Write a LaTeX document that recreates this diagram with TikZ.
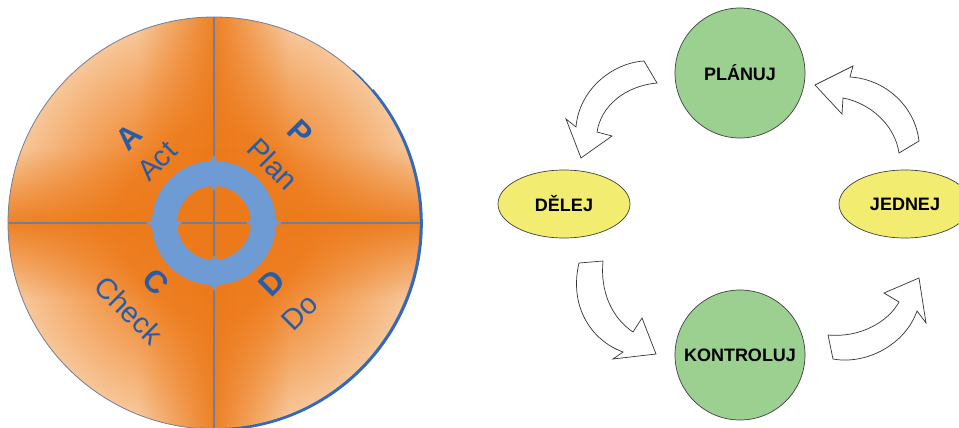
\documentclass[tikz,border=0pt]{standalone}
\usepackage{fontspec}
\setmainfont{Liberation Sans}
\usetikzlibrary{shapes.geometric,fadings}
\definecolor{orA}{RGB}{239,130,38}
\definecolor{orD}{RGB}{236,122,26}
\definecolor{peach}{RGB}{247,198,152}
\definecolor{ringB}{RGB}{110,155,212}
\definecolor{txtB}{RGB}{40,92,168}
\definecolor{axisC}{RGB}{115,125,150}
\definecolor{rimB}{RGB}{50,105,185}
\definecolor{grn}{RGB}{155,208,145}
\definecolor{yel}{RGB}{242,236,112}
\pgfdeclareradialshading{rimshade}{\pgfpoint{0bp}{0bp}}{color(0bp)=(orA); color(11bp)=(orA); color(25bp)=(peach); color(50bp)=(peach)}
\tikzfading[name=vband, left color=transparent!100, right color=transparent!100, middle color=transparent!10]
\tikzfading[name=hband, top color=transparent!100, bottom color=transparent!100, middle color=transparent!10]
\tikzset{
  lbl/.style={text=txtB, inner sep=0pt, font=\fontsize{29}{29}\selectfont},
  bigl/.style={text=txtB, inner sep=0pt, font=\bfseries\fontsize{31}{31}\selectfont},
  greenc/.style={circle, draw=black!75, fill=grn, line width=0.7pt, minimum size=130pt, inner sep=0pt, font=\bfseries\fontsize{18}{18}\selectfont},
  yellowe/.style={ellipse, draw=black!75, fill=yel, line width=0.7pt, minimum width=132pt, minimum height=68pt, inner sep=0pt, font=\bfseries\fontsize{18}{18}\selectfont},
  blockarrow/.style={draw=black!80, fill=white, line width=0.7pt, line join=miter},
  barb/.style={fill=ringB}
}
\begin{document}
\begin{tikzpicture}[x=1pt,y=-1pt]
\useasboundingbox (0,0) rectangle (959,428);
% ---- left disc ----
\begin{scope}
  \clip (214,223) circle (206);
  \shade[shading=rimshade] (214,223) circle (206);
  \fill[orD, path fading=vband] (139,0) rectangle (289,440);
  \fill[orD, path fading=hband] (0,148) rectangle (430,298);
\end{scope}
\draw[axisC, line width=1.1pt] (8,223) -- (420,223);
\draw[axisC, line width=1.1pt] (214,17) -- (214,430);
\draw[axisC, line width=0.8pt] (214,223) circle (206);
\begin{scope}
  \clip (214,223) -- (490,-80) -- (600,-80) -- (600,600) -- (188,600) -- cycle;
  \draw[rimB, line width=1.4pt] (214.8,223.3) circle (206);
\end{scope}
\begin{scope}
  \clip (214,223) -- (444,30) -- (600,30) -- (600,600) -- (188,600) -- cycle;
  \draw[rimB, line width=2.6pt] (215.5,223.5) circle (206);
\end{scope}
% ring
\fill[ringB, even odd rule] (214,223) circle (62) (214,223) circle (37);
\foreach \a in {0,90,180,270}{
  \fill[barb] ([shift={(214,223)}]\a-4:61) -- ([shift={(214,223)}]\a:68) -- ([shift={(214,223)}]\a+3:61) -- cycle;
  \fill[barb] ([shift={(214,223)}]\a-6:38) -- ([shift={(214,223)}]\a:32) -- ([shift={(214,223)}]\a+4:38) -- cycle;
}
% labels
\node[bigl, rotate=45] (A) at (129,137) {A};
\node[lbl, rotate=45] (act) at (157,161) {Act};
\node[bigl, rotate=-45] (P) at (300,132) {P};
\node[lbl, rotate=-45] (plan) at (273,164) {Plan};
\node[bigl, rotate=-45] (C) at (156,282) {C};
\node[lbl, rotate=-45] (check) at (129,310) {Check};
\node[bigl, rotate=45] (D) at (272,283) {D};
\node[lbl, rotate=45] (do) at (300,312) {Do};
% ---- right cycle ----
\node[greenc] (planuj) at (740,73) {PLÁNUJ};
\node[greenc] (kontroluj) at (740,355) {KONTROLUJ};
\node[yellowe] (delej) at (564,204) {DĚLEJ};
\node[yellowe] (jednej) at (905,204) {JEDNEJ};
% block arrows
\draw[blockarrow] (644,61) .. controls (612,63) and (579,90) .. (576,127)
  -- (566,119) -- (581,158) -- (612,136) -- (597,132)
  .. controls (601,106) and (625,86) .. (657,83) -- cycle;
\draw[blockarrow] (919,141) .. controls (915,106) and (885,79) .. (850,77)
  -- (853,66) -- (815,85) -- (842,114) -- (843,98)
  .. controls (870,103) and (895,125) .. (899,153) -- cycle;
\draw[blockarrow] (579,263) .. controls (569,305) and (590,340) .. (623,352)
  -- (613,359) -- (656,354) -- (642,318) -- (633,332)
  .. controls (612,318) and (600,292) .. (603,261) -- cycle;
\draw[blockarrow] (828,335) .. controls (860,338) and (888,322) .. (899,302)
  -- (884,293) -- (919,278) -- (926,323) -- (917,311)
  .. controls (905,345) and (866,365) .. (833,359) -- cycle;
\end{tikzpicture}
\end{document}
